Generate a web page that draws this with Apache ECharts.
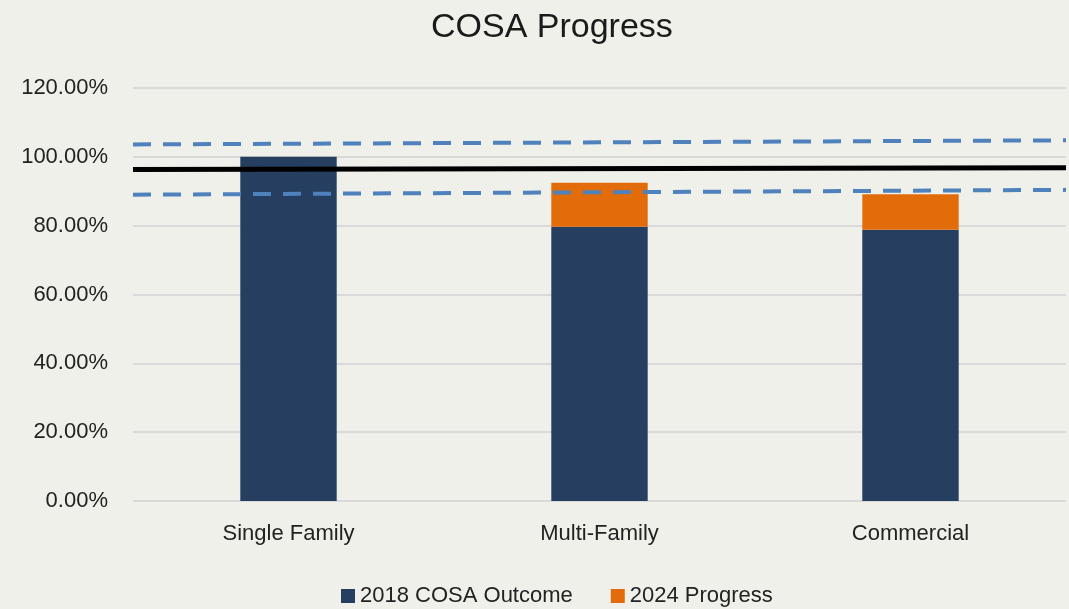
<!DOCTYPE html>
<html>
<head>
<meta charset="utf-8">
<script src="https://cdn.jsdelivr.net/npm/echarts@6/dist/echarts.min.js"></script>
<style>
	html, body { margin: 0; padding: 0; background: #eff0e9; }
	#container { width: 1069px; height: 609px; }
</style>
</head>
<body>
<div id="container"></div>
<script>
// chart data
var categories = ['Single Family', 'Multi-Family', 'Commercial'];
var outcome2018 = [100.0, 79.7, 78.8];
var progress2024 = [0, 12.8, 10.3];
// reference lines, value at left edge and right edge of the plot
var upperBand = [103.6, 104.8];
var targetLine = [96.3, 96.8];
var lowerBand = [89.0, 90.4];

var font = '"Liberation Sans Narrow", "Liberation Sans", Arial, sans-serif';

function edgePoints(arr) {
	return [[0, arr[0]], [1, arr[1]]];
}

var dom = document.getElementById('container');
var myChart = echarts.init(dom);
var option = {
	backgroundColor: '#eff0e9',
	textStyle: { fontFamily: font },
	title: {
		text: 'COSA Progress',
		left: 426,
		top: 6,
		textStyle: { fontFamily: font, fontSize: 34, fontWeight: 'normal', color: '#1a1a1a' }
	},
	legend: {
		data: ['2018 COSA Outcome', '2024 Progress'],
		left: 336,
		top: 580,
		itemWidth: 14,
		itemHeight: 14,
		itemGap: 38,
		icon: 'rect',
		textStyle: { fontFamily: font, fontSize: 22, color: '#222' }
	},
	grid: { left: 133, right: 3, top: 88, bottom: 108 },
	xAxis: [{
		type: 'category',
		data: categories,
		axisLine: { show: false },
		axisTick: { show: false },
		axisLabel: { fontFamily: font, fontSize: 22, color: '#222', margin: 22 }
	}, {
		type: 'value',
		min: 0,
		max: 1,
		show: false
	}],
	yAxis: {
		type: 'value',
		min: 0,
		max: 120,
		interval: 20,
		axisLine: { show: false },
		axisTick: { show: false },
		splitLine: { lineStyle: { color: '#d9d9d9', width: 2 } },
		axisLabel: {
			fontFamily: font, fontSize: 22, color: '#222', margin: 25,
			formatter: function(v) { return v.toFixed(2) + '%'; }
		}
	},
	series: [{
		name: '2018 COSA Outcome',
		type: 'bar',
		stack: 'cosa',
		barWidth: '31%',
		itemStyle: { color: '#263f60' },
		data: outcome2018
	}, {
		name: '2024 Progress',
		type: 'bar',
		stack: 'cosa',
		barWidth: '31%',
		itemStyle: { color: '#e36c0a' },
		data: progress2024
	}, {
		name: 'Upper',
		type: 'line',
		xAxisIndex: 1,
		symbol: 'none',
		silent: true,
		lineStyle: { color: '#4f81bd', width: 4, type: [18, 12] },
		data: edgePoints(upperBand)
	}, {
		name: 'Target',
		type: 'line',
		xAxisIndex: 1,
		symbol: 'none',
		silent: true,
		lineStyle: { color: '#000', width: 5 },
		data: edgePoints(targetLine)
	}, {
		name: 'Lower',
		type: 'line',
		xAxisIndex: 1,
		symbol: 'none',
		silent: true,
		lineStyle: { color: '#4f81bd', width: 4, type: [18, 12] },
		data: edgePoints(lowerBand)
	}]
};
myChart.setOption(option, true);
</script>
</body>
</html>
